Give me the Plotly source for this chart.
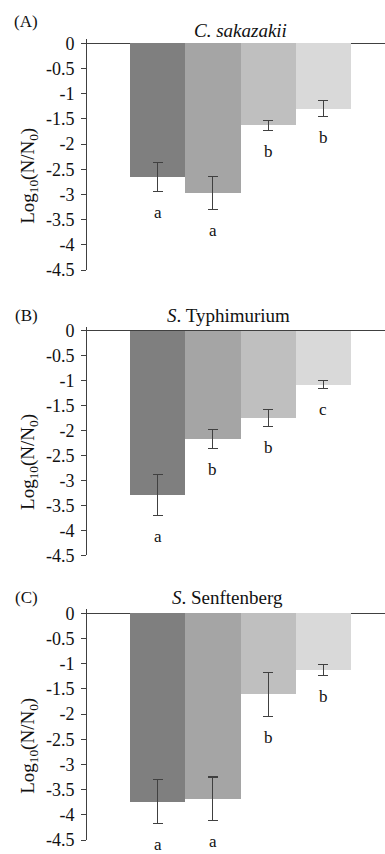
import plotly.graph_objects as go
from plotly.subplots import make_subplots

# ---- data ----
categories = [0, 1, 2, 3]
bar_colors = ["#7f7f7f", "#a5a5a5", "#bfbfbf", "#d9d9d9"]

panel_labels = ["(A)", "(B)", "(C)"]
panel_titles = ["<i>C. sakazakii</i>", "<i>S</i>. Typhimurium", "<i>S</i>. Senftenberg"]

means_a = [-2.65, -2.97, -1.63, -1.30]
errs_a = [0.29, 0.33, 0.10, 0.16]
letters_a = ["a", "a", "b", "b"]

means_b = [-3.29, -2.17, -1.75, -1.08]
errs_b = [0.41, 0.19, 0.17, 0.085]
letters_b = ["a", "b", "b", "c"]

means_c = [-3.74, -3.68, -1.61, -1.13]
errs_c = [0.44, 0.43, 0.44, 0.11]
letters_c = ["a", "a", "b", "b"]

yticks = [0, -0.5, -1, -1.5, -2, -2.5, -3, -3.5, -4, -4.5]
ytick_text = ["0", "-0.5", "-1", "-1.5", "-2", "-2.5", "-3", "-3.5", "-4", "-4.5"]

all_means = [means_a, means_b, means_c]
all_errs = [errs_a, errs_b, errs_c]
all_letters = [letters_a, letters_b, letters_c]

# ---- layout geometry (pixels) ----
W, H = 385, 854
L = 87
FONT = "Liberation Serif"
AX = "#404040"
TXT = "#111111"

# (top px, bottom px of plot area) per panel
panel_px = [(39.3, 270.0), (326.7, 555.3), (609.3, 840.0)]
label_px = [(26, 21), (26, 315), (26, 597)]
title_px = [(240, 30), (228, 315), (227, 597)]

fig = make_subplots(rows=3, cols=1)

for i in range(3):
    r = i + 1
    fig.add_trace(
        go.Bar(
            x=categories,
            y=all_means[i],
            width=1,
            marker=dict(color=bar_colors, line=dict(width=0)),
            error_y=dict(type="data", array=all_errs[i], color=AX, thickness=1.2, width=5),
            showlegend=False,
            hoverinfo="skip",
        ),
        row=r, col=1,
    )
    top, bot = panel_px[i]
    yname = "yaxis" if i == 0 else f"yaxis{r}"
    xname = "xaxis" if i == 0 else f"xaxis{r}"
    fig.layout[yname].update(
        domain=[1 - bot / H, 1 - top / H],
        range=[-4.5, 0.08],
        tickvals=yticks,
        ticktext=ytick_text,
        ticks="outside",
        ticklen=5,
        tickcolor=AX,
        ticklabelstandoff=3,
        showline=True,
        linecolor=AX,
        linewidth=1,
        showgrid=False,
        zeroline=True,
        zerolinecolor=AX,
        zerolinewidth=1,
        automargin=False,
        tickfont=dict(family=FONT, size=18, color=TXT),
    )
    fig.layout[xname].update(
        range=[-1.278, 4.115],
        showticklabels=False,
        showgrid=False,
        zeroline=False,
        showline=False,
        automargin=False,
        ticks="",
    )
    xref = "x" if i == 0 else f"x{r}"
    yref = "y" if i == 0 else f"y{r}"
    # significance letters
    for c, m, e, t in zip(categories, all_means[i], all_errs[i], all_letters[i]):
        fig.add_annotation(
            x=c, y=m - e, xref=xref, yref=yref, text=t, showarrow=False,
            yanchor="middle", yshift=-21,
            font=dict(family=FONT, size=17, color=TXT),
        )
    # y-axis title
    fig.add_annotation(
        x=(29 - L) / (W - L), y=-2.63, xref="paper", yref=yref,
        text="Log<sub>10</sub>(N/N<sub>0</sub>)", textangle=-90, showarrow=False,
        xanchor="center", yanchor="middle",
        font=dict(family=FONT, size=19, color=TXT),
    )
    # panel label
    lx, ly = label_px[i]
    fig.add_annotation(
        x=(lx - L) / (W - L), y=1 - ly / H, xref="paper", yref="paper",
        text=panel_labels[i], showarrow=False, xanchor="center", yanchor="middle",
        font=dict(family=FONT, size=17, color=TXT),
    )
    # panel title
    tx, ty = title_px[i]
    fig.add_annotation(
        x=(tx - L) / (W - L), y=1 - ty / H, xref="paper", yref="paper",
        text=panel_titles[i], showarrow=False, xanchor="center", yanchor="middle",
        font=dict(family=FONT, size=19, color=TXT),
    )

fig.update_layout(
    template="none",
    width=W, height=H,
    margin=dict(l=L, r=0, t=0, b=0, pad=0),
    paper_bgcolor="white",
    plot_bgcolor="white",
    bargap=0,
    showlegend=False,
    hovermode=False,
)

fig.write_html(
    "out.html",
    config={"displayModeBar": False, "staticPlot": True},
    post_script="document.body.style.margin='0';",
)
